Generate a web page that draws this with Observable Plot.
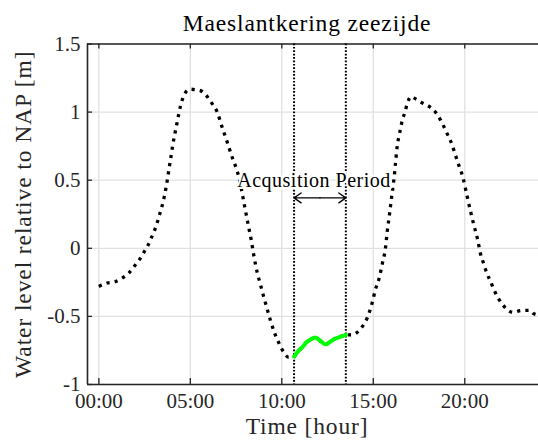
<!DOCTYPE html>
<html>
<head>
<meta charset="utf-8">
<script src="https://cdn.jsdelivr.net/npm/d3@7"></script>
<script src="https://cdn.jsdelivr.net/npm/@observablehq/plot@0.6"></script>
<style>
  html, body { margin: 0; padding: 0; background: #fff; }
</style>
</head>
<body>
<div id="chart"></div>
<script>
// Texts
const titleText = "Maeslantkering zeezijde";
const xLabel = "Time [hour]";
const yLabel = "Water level relative to NAP [m]";
const periodLabel = "Acqusition Period";

// Axis extents and ticks
const xDomain = [-0.62, 24.03];
const yDomain = [-1, 1.5];
const xTicks = [0, 5, 10, 15, 20];
const xTickLabels = ["00:00", "05:00", "10:00", "15:00", "20:00"];
const yTicks = [-1, -0.5, 0, 0.5, 1, 1.5];
const yTickLabels = ["-1", "-0.5", "0", "0.5", "1", "1.5"];

// Acquisition window (hours) and the height of its span arrow (m)
const acqStart = 10.67;
const acqEnd = 13.5;
const arrowLevel = 0.37;
const periodLabelTime = 11.76;
const periodLabelLevel = 0.5;

// Water level record: time of day (hours) and level relative to NAP (m)
const timeH = [
  0.00, 0.45, 0.90, 1.30, 1.65, 1.95, 2.22, 2.46, 2.68, 2.88,
  3.06, 3.21, 3.34, 3.46, 3.57, 3.66, 3.74, 3.81, 3.88, 3.95,
  4.02, 4.10, 4.19, 4.28, 4.37, 4.47, 4.60, 4.80, 5.00, 5.25,
  5.55, 5.85, 6.20, 6.47, 6.74, 7.02, 7.32, 7.52, 7.70, 7.84,
  7.98, 8.16, 8.33, 8.48, 8.66, 8.84, 9.02, 9.20, 9.38, 9.60,
  9.84, 10.11, 10.38, 10.67, 10.90, 11.10, 11.35, 11.60, 11.84, 12.00,
  12.20, 12.42, 12.60, 12.85, 13.15, 13.50, 13.85, 14.30, 14.67, 14.94,
  15.12, 15.30, 15.49, 15.67, 15.76, 15.89, 16.00, 16.12, 16.21, 16.30,
  16.39, 16.49, 16.58, 16.72, 16.85, 17.07, 17.31, 17.67, 18.07, 18.40,
  18.67, 19.04, 19.31, 19.50, 19.70, 19.90, 20.10, 20.30, 20.50, 20.71,
  20.86, 21.04, 21.22, 21.40, 21.58, 21.80, 22.04, 22.28, 22.64, 23.08,
  23.55, 23.77, 24.00
];
const levelM = [
  -0.28, -0.255, -0.245, -0.217, -0.18, -0.13, -0.083, -0.03, 0.02, 0.08,
  0.137, 0.196, 0.257, 0.313, 0.375, 0.436, 0.50, 0.56, 0.62, 0.68,
  0.742, 0.803, 0.864, 0.925, 0.987, 1.048, 1.105, 1.155, 1.168, 1.165,
  1.158, 1.125, 1.06, 1.00, 0.888, 0.778, 0.656, 0.583, 0.497, 0.40,
  0.30, 0.175, 0.06, -0.06, -0.18, -0.27, -0.36, -0.445, -0.53, -0.62,
  -0.695, -0.765, -0.80, -0.795, -0.755, -0.73, -0.69, -0.668, -0.655, -0.668,
  -0.69, -0.705, -0.69, -0.668, -0.652, -0.636, -0.634, -0.592, -0.51, -0.40,
  -0.30, -0.23, -0.115, 0.007, 0.12, 0.253, 0.374, 0.497, 0.62, 0.742,
  0.815, 0.877, 0.938, 0.994, 1.06, 1.114, 1.097, 1.068, 1.04, 0.999,
  0.943, 0.84, 0.76, 0.68, 0.60, 0.52, 0.40, 0.28, 0.17, 0.06,
  -0.04, -0.115, -0.188, -0.24, -0.30, -0.36, -0.408, -0.445, -0.47, -0.457,
  -0.455, -0.48, -0.49
];

const record = timeH.map((t, i) => ({t, v: levelM[i]}));
const acquired = record.filter(d => d.t >= acqStart && d.t <= acqEnd);
const acqMid = (acqStart + acqEnd) / 2;

const serif = "'Liberation Serif', 'Times New Roman', serif";
const ink = "#262626";
const gridColor = "#e1e1e1";
const frameH = 444 - 43.5 - 60;
const frameW = 538 - 87;

const chart = Plot.plot({
  width: 538,
  height: 444,
  marginLeft: 87,
  marginRight: 0,
  marginTop: 43.5,
  marginBottom: 60,
  style: {background: "#fff", overflow: "visible"},
  x: {domain: xDomain, axis: null},
  y: {domain: yDomain, axis: null},
  marks: [
    // grid
    Plot.ruleX(xTicks, {stroke: gridColor, strokeWidth: 1.3}),
    Plot.ruleY(yTicks, {stroke: gridColor, strokeWidth: 1.3}),
    // axes box (left, top, bottom)
    Plot.ruleX([xDomain[0]], {stroke: ink, strokeWidth: 1.6}),
    Plot.ruleY(yDomain, {stroke: ink, strokeWidth: 1.6}),
    // inward ticks
    Plot.ruleX(xTicks, {stroke: ink, strokeWidth: 1.3, insetTop: frameH - 6}),
    Plot.ruleX(xTicks, {stroke: ink, strokeWidth: 1.3, insetBottom: frameH - 5}),
    Plot.ruleY(yTicks, {stroke: ink, strokeWidth: 1.3, insetRight: frameW - 5}),
    // tick labels
    Plot.axisX({
      ticks: xTicks, tickFormat: d => xTickLabels[xTicks.indexOf(d)],
      tickSize: 0, tickPadding: 9, fontSize: 21, fontFamily: serif,
      color: ink, label: null
    }),
    Plot.axisY({
      ticks: yTicks, tickFormat: d => yTickLabels[yTicks.indexOf(d)],
      tickSize: 0, tickPadding: 7, fontSize: 21, fontFamily: serif,
      color: ink, label: null
    }),
    // acquisition window bounds
    Plot.ruleX([acqStart, acqEnd], {stroke: "#000", strokeWidth: 2, strokeDasharray: "1.7,1.7"}),
    // full record, dotted
    Plot.line(record, {
      x: "t", y: "v", stroke: "#000", strokeWidth: 3.3,
      strokeDasharray: "3.2,5.1", strokeLinecap: "butt", curve: "monotone-x"
    }),
    // acquired segment
    Plot.line(acquired, {
      x: "t", y: "v", stroke: "#00ff00", strokeWidth: 4,
      curve: "monotone-x", strokeLinecap: "round", strokeLinejoin: "round"
    }),
    // span arrow
    Plot.arrow([0], {
      x1: acqMid, x2: acqStart, y1: arrowLevel, y2: arrowLevel,
      stroke: "#000", strokeWidth: 1.3, headLength: 10, headAngle: 70
    }),
    Plot.arrow([0], {
      x1: acqMid, x2: acqEnd, y1: arrowLevel, y2: arrowLevel,
      stroke: "#000", strokeWidth: 1.3, headLength: 10, headAngle: 70
    }),
    Plot.text([periodLabel], {
      x: periodLabelTime, y: periodLabelLevel, text: d => d,
      fontSize: 20, fontFamily: serif, fill: "#000",
      stroke: "#fff", strokeWidth: 4, lineAnchor: "middle"
    }),
    // title and axis labels
    Plot.text([titleText], {
      frameAnchor: "top", text: d => d, dx: -6, dy: -12.8,
      lineAnchor: "bottom", fontSize: 23.5, fontFamily: serif, fill: "#000"
    }),
    Plot.text([xLabel], {
      frameAnchor: "bottom", text: d => d, dx: -6, dy: 49,
      lineAnchor: "bottom", fontSize: 23.5, fontFamily: serif, fill: ink
    }),
    Plot.text([yLabel], {
      frameAnchor: "left", text: d => d, dx: -57, rotate: -90,
      textAnchor: "middle", lineAnchor: "bottom", fontSize: 23.5,
      fontFamily: serif, fill: ink
    })
  ]
});

// Serif fallback is narrower than the intended face; widen the larger labels a little
const spacing = new Map([[titleText, "0.85px"], [xLabel, "0.85px"], [yLabel, "0.9px"], [periodLabel, "0.5px"]]);
d3.select(chart).selectAll("text").each(function() {
  const s = spacing.get(this.textContent);
  if (s) this.style.letterSpacing = s;
});

document.getElementById("chart").appendChild(chart);
</script>
</body>
</html>
